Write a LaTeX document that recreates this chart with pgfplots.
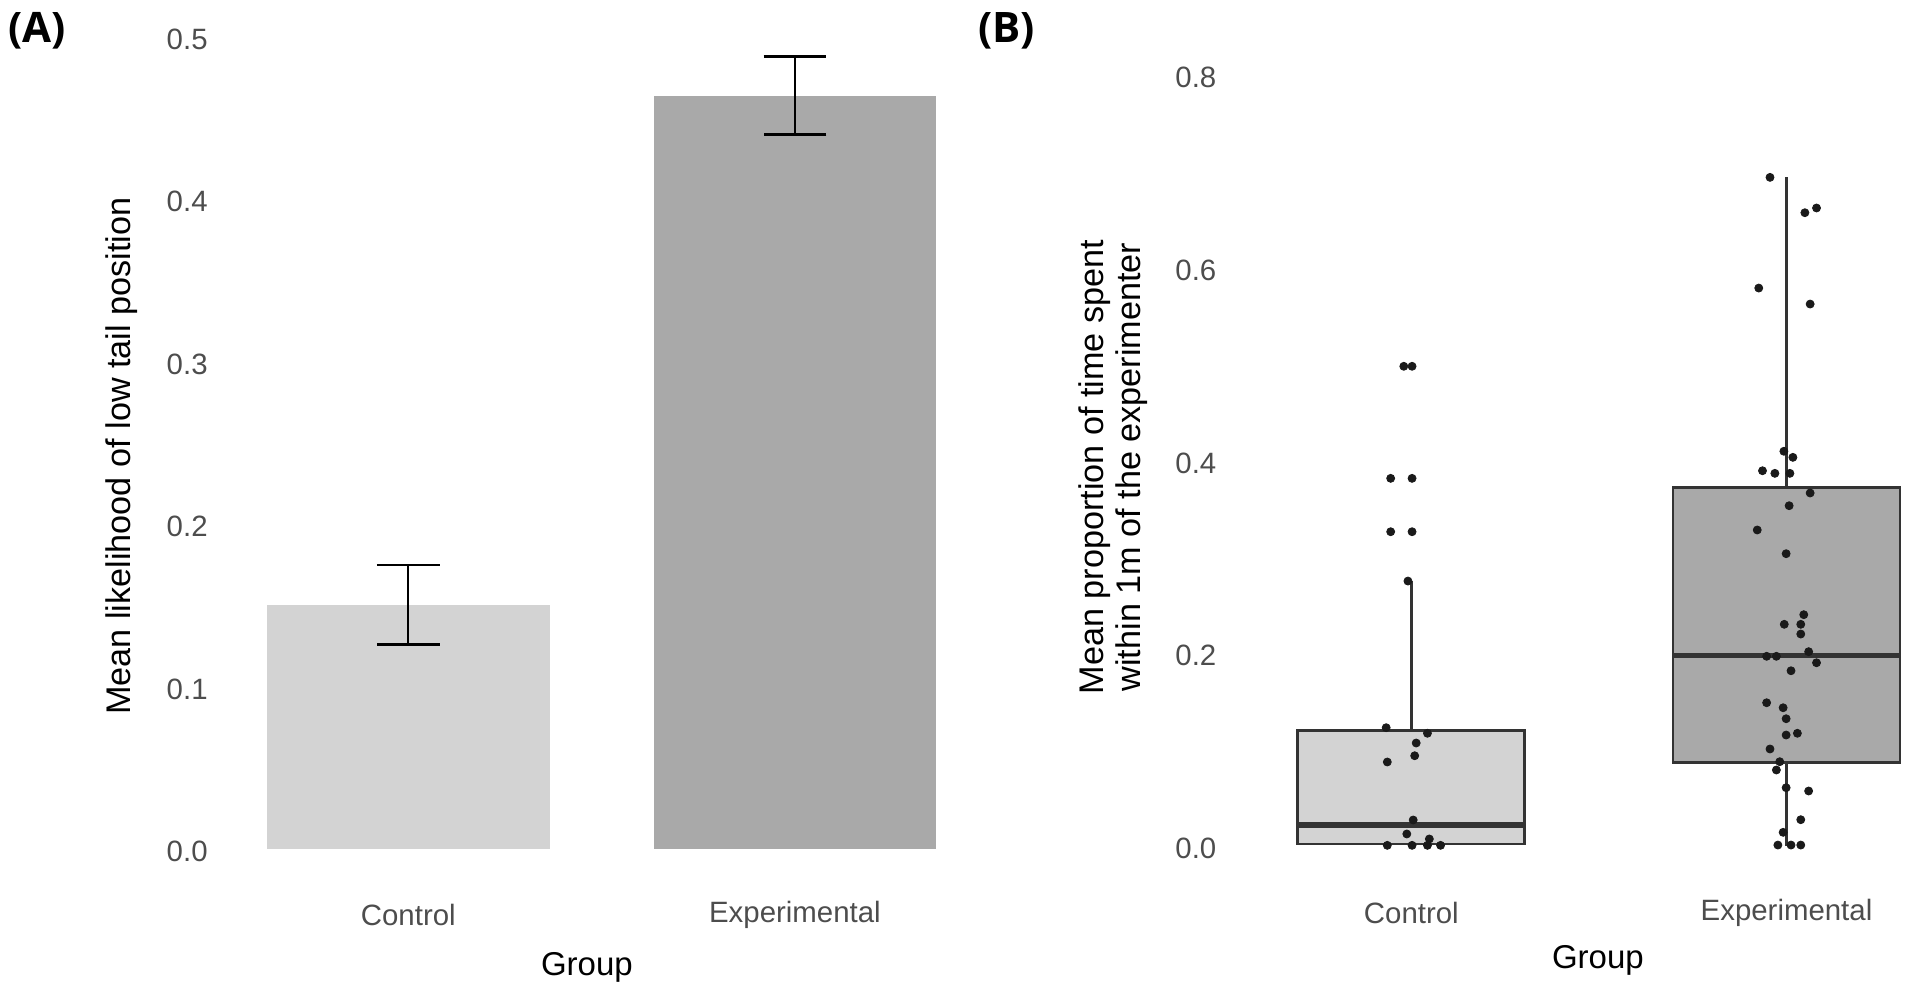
\documentclass[border=0pt]{standalone}
\usepackage{fontspec}
\setmainfont{Liberation Sans}
\newfontfamily\panelfont{Open Sans}
\usepackage{pgfplots}
\pgfplotsset{compat=1.18}
\usepgfplotslibrary{statistics}
\definecolor{ctrl}{HTML}{D3D3D3}
\definecolor{expc}{HTML}{A9A9A9}
\definecolor{tickc}{HTML}{4D4D4D}
\definecolor{boxln}{HTML}{333333}
\definecolor{ptc}{HTML}{1A1A1A}
\pgfplotsset{common/.style={
  scale only axis, axis line style={draw=none}, tick style={draw=none}, clip=false,
  xmin=0.5, ymin=0,
  xtick={1,2}, xticklabels={Control,Experimental},
  ticklabel style={font=\fontsize{14.7}{17}\selectfont, text=tickc},
  /pgf/number format/assume math mode=true,
  yticklabel style={/pgf/number format/fixed, /pgf/number format/fixed zerofill,
     /pgf/number format/precision=1,
     anchor=east, inner sep=0pt, xshift=-3.5pt, yshift=-1.2pt},
  xlabel style={font=\fontsize{16.5}{18.5}\selectfont, text=black},
  ylabel style={font=\fontsize{17.1}{18.7}\selectfont, text=black},
}}
\begin{document}
\begin{tikzpicture}
\path[use as bounding box] (0,0) rectangle (954.5pt,496.5pt);
% ---------------- Panel A ----------------
\begin{axis}[common, at={(107.5pt,71.85pt)}, anchor=south west,
  width=386.6pt, height=406.25pt, xmax=2.5, ymax=0.5,
  ytick={0,0.1,0.2,0.3,0.4,0.5},
  xticklabel style={anchor=center, inner sep=0pt, yshift=-32.85pt},
  xlabel={Group},
  xlabel style={at={(axis description cs:0.481,0)}, anchor=center, yshift=-58.85pt},
  ylabel={Mean likelihood of low tail position},
  ylabel style={at={(axis description cs:-0.121,0.484)}, anchor=center},
]
\addplot[ybar, bar width=0.731, bar shift=0pt, fill=ctrl, draw=none,
  error bars/.cd, y dir=both, y explicit,
  error bar style={line width=1.15pt, black},
  error mark options={line width=1.15pt, black, mark size=15.7pt, rotate=90}]
  coordinates {(1,0.1506) +- (0,0.0245)};
\addplot[ybar, bar width=0.731, bar shift=0pt, fill=expc, draw=none,
  error bars/.cd, y dir=both, y explicit,
  error bar style={line width=1.15pt, black},
  error mark options={line width=1.15pt, black, mark size=15.7pt, rotate=90}]
  coordinates {(2,0.4638) +- (0,0.0240)};
\end{axis}
% ---------------- Panel B ----------------
\begin{axis}[common, at={(611.85pt,73.5pt)}, anchor=south west,
  width=342.65pt, height=385.4pt, xmax=2.3265, ymax=0.8,
  ytick={0,0.2,0.4,0.6,0.8},
  xticklabel style={anchor=center, inner sep=0pt, yshift=-33.5pt},
  xlabel={Group},
  xlabel style={at={(axis description cs:0.546,0)}, anchor=center, yshift=-57pt},
  ylabel={Mean proportion of time spent\\within 1m of the experimenter},
  ylabel style={align=center, at={(axis description cs:-0.1615,0.4917)}, anchor=center},
  boxplot/draw direction=y,
]
\addplot[boxplot prepared={lower whisker=0, lower quartile=0.002, median=0.0218,
    upper quartile=0.1197, upper whisker=0.275, draw position=1,
    box extend=0.605, whisker extend=0},
  fill=ctrl, draw=boxln, line width=1.4pt, mark=none,
  boxplot/every median/.style={line width=2.6pt}] coordinates {};
\addplot[boxplot prepared={lower whisker=0, lower quartile=0.0865, median=0.198,
    upper quartile=0.3723, upper whisker=0.694, draw position=2,
    box extend=0.605, whisker extend=0},
  fill=expc, draw=boxln, line width=1.4pt, mark=none,
  boxplot/every median/.style={line width=2.6pt}] coordinates {};
\addplot[only marks, mark=*, mark size=2pt, color=ptc] coordinates {
(0.980,0.4979) (1.002,0.4979) (0.945,0.3816) (1.002,0.3816) (0.945,0.3262)
(1.002,0.3262) (0.991,0.2750) (0.933,0.1228) (1.043,0.1170) (1.013,0.1069)
(1.009,0.0937) (0.936,0.0872) (1.005,0.0270) (0.988,0.0125) (1.048,0.0073)
(0.936,0.0007) (1.002,0.0007) (1.043,0.0007) (1.078,0.0007)
};
\addplot[only marks, mark=*, mark size=2pt, color=ptc] coordinates {
(1.956,0.694) (2.049,0.6573) (2.080,0.6622) (1.926,0.5791) (2.063,0.5625)
(1.993,0.4097) (2.017,0.4034) (1.936,0.3895) (1.969,0.3868) (2.009,0.3868)
(2.063,0.3664) (2.007,0.3532) (1.922,0.3280) (1.999,0.3034) (2.046,0.2401)
(1.994,0.2301) (2.038,0.2301) (2.038,0.2200) (2.059,0.2017) (1.947,0.1969)
(1.973,0.1969) (2.080,0.1902) (2.012,0.1819) (1.947,0.1487) (1.991,0.1435)
(1.999,0.1321) (1.999,0.1152) (2.029,0.1170) (1.956,0.1007) (1.982,0.0875)
(1.973,0.0789) (1.999,0.0605) (2.059,0.0571) (2.038,0.0273) (1.991,0.0142)
(1.977,0.0010) (2.012,0.0010) (2.038,0.0010)
};
\end{axis}
\node[font=\panelfont\bfseries\fontsize{21}{25}\selectfont, inner sep=0pt] at (18.5pt,481.25pt) {(A)};
\node[font=\panelfont\bfseries\fontsize{21}{25}\selectfont, inner sep=0pt] at (503.35pt,481.25pt) {(B)};
\end{tikzpicture}
\end{document}
